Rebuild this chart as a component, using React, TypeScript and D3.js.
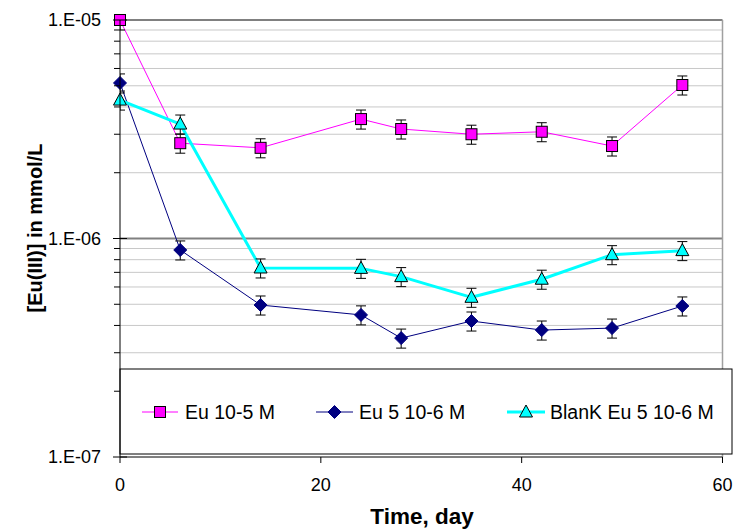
import React from "react";
import * as d3 from "d3";

const days = [0, 6, 14, 24, 28, 35, 42, 49, 56];
const eu1e5 = [1.0e-5, 2.73e-6, 2.6e-6, 3.52e-6, 3.17e-6, 3.0e-6, 3.08e-6, 2.65e-6, 5.04e-6];
const eu5e6 = [5.15e-6, 8.86e-7, 4.96e-7, 4.47e-7, 3.5e-7, 4.19e-7, 3.81e-7, 3.89e-7, 4.91e-7];
const blank5e6 = [4.3e-6, 3.34e-6, 7.33e-7, 7.3e-7, 6.69e-7, 5.38e-7, 6.51e-7, 8.43e-7, 8.8e-7];
const seriesNames = ["Eu 10-5 M", "Eu 5 10-6 M", "BlanK Eu 5 10-6 M"];
const relErr = 0.1;
const xTicks = [0, 20, 40, 60];
const yMajor = [1e-7, 1e-6, 1e-5];
const yTickLabels = ["1.E-07", "1.E-06", "1.E-05"];

const W = 735, H = 530;
const left = 120, right = 722.5, top = 20, bottom = 457;
const FONT = "'Liberation Sans', Arial, sans-serif";

function Marker({ kind, cx, cy }: { kind: string; cx: number; cy: number }) {
  if (kind === "square")
    return <rect x={cx - 5.5} y={cy - 5.5} width={11} height={11} fill="#FF00FF" stroke="#000" strokeWidth={1} />;
  if (kind === "diamond")
    return <path d={`M${cx},${cy - 6.5}L${cx + 6.5},${cy}L${cx},${cy + 6.5}L${cx - 6.5},${cy}Z`} fill="#000080" stroke="#000080" strokeWidth={1} />;
  return <path d={`M${cx},${cy - 7}L${cx + 6.5},${cy + 5}L${cx - 6.5},${cy + 5}Z`} fill="#00FFFF" stroke="#000" strokeWidth={1} />;
}

export default function App() {
  const x = d3.scaleLinear().domain([0, 60]).range([left, right]);
  const y = d3.scaleLog().domain([1e-7, 1e-5]).range([bottom, top]);

  const minor: number[] = [];
  [1e-7, 1e-6].forEach((d) => {
    for (let k = 2; k <= 9; k++) minor.push(d * k);
  });

  const series = [
    { vals: eu1e5, color: "#FF00FF", width: 1, kind: "square" },
    { vals: eu5e6, color: "#000080", width: 1, kind: "diamond" },
    { vals: blank5e6, color: "#00FFFF", width: 3, kind: "triangle" },
  ];

  const line = d3
    .line<number>()
    .x((_, i) => x(days[i]))
    .y((v) => y(v));

  const legendItems = [
    { x1: 142, x2: 178, mx: 160, tx: 185 },
    { x1: 316, x2: 353, mx: 334.5, tx: 359 },
    { x1: 507, x2: 545, mx: 526, tx: 550 },
  ];
  const ly = 412;

  return (
    <svg width={W} height={H} style={{ position: "absolute", left: 0, top: 0, background: "#fff" }} fontFamily={FONT}>
      <defs>
        <clipPath id="plotClip">
          <rect x={left} y={top} width={right - left} height={bottom - top} />
        </clipPath>
      </defs>
      <rect x={0} y={0} width={W} height={H} fill="#fff" />
      {minor.map((v, i) => (
        <line key={"mg" + i} x1={left} x2={right} y1={y(v)} y2={y(v)} stroke="#C8C8C8" strokeWidth={1} />
      ))}
      {[1e-6, 1e-5].map((v, i) => (
        <line key={"Mg" + i} x1={left} x2={right} y1={y(v)} y2={y(v)} stroke="#808080" strokeWidth={2} />
      ))}
      <line x1={right} x2={right} y1={top} y2={bottom} stroke="#A0A0A0" strokeWidth={1.5} />

      {series.map((s, si) => (
        <g key={"s" + si}>
          <path d={line(s.vals) || ""} fill="none" stroke={s.color} strokeWidth={s.width} strokeLinejoin="round" />
          <g clipPath="url(#plotClip)">
            {s.vals.map((v, i) => {
              const cx = x(days[i]);
              const y1 = y(v * (1 + relErr));
              const y2 = y(v * (1 - relErr));
              return (
                <g key={"e" + i} stroke="#000" strokeWidth={1}>
                  <line x1={cx} x2={cx} y1={y1} y2={y2} />
                  <line x1={cx - 5} x2={cx + 5} y1={y1} y2={y1} />
                  <line x1={cx - 5} x2={cx + 5} y1={y2} y2={y2} />
                </g>
              );
            })}
          </g>
          {s.vals.map((v, i) => (
            <Marker key={"m" + i} kind={s.kind} cx={x(days[i])} cy={y(v)} />
          ))}
        </g>
      ))}

      <rect x={left} y={369} width={732 - left} height={454 - 369} fill="#fff" stroke="#000" strokeWidth={1} />
      {legendItems.map((it, i) => (
        <g key={"lg" + i}>
          <line x1={it.x1} x2={it.x2} y1={ly} y2={ly} stroke={series[i].color} strokeWidth={series[i].width} />
          <Marker kind={series[i].kind} cx={it.mx} cy={ly} />
          <text x={it.tx} y={ly} dominantBaseline="central" fontSize={19.5} fill="#000">
            {seriesNames[i]}
          </text>
        </g>
      ))}

      <line x1={left} x2={left} y1={top} y2={bottom} stroke="#000" strokeWidth={1} />
      <line x1={left} x2={right} y1={bottom} y2={bottom} stroke="#000" strokeWidth={1} />
      {minor.map((v, i) => (
        <line key={"mt" + i} x1={left - 6} x2={left} y1={y(v)} y2={y(v)} stroke="#000" strokeWidth={1} />
      ))}
      {yMajor.map((v, i) => (
        <g key={"yt" + i}>
          <line x1={left - 7} x2={left + 7} y1={y(v)} y2={y(v)} stroke="#000" strokeWidth={1} />
          <text x={101} y={y(v)} textAnchor="end" dominantBaseline="central" fontSize={18} fill="#000">
            {yTickLabels[i]}
          </text>
        </g>
      ))}
      {xTicks.map((t, i) => (
        <g key={"xt" + i}>
          <line x1={x(t)} x2={x(t)} y1={bottom} y2={bottom + 6} stroke="#000" strokeWidth={1} />
          <text x={x(t)} y={491} textAnchor="middle" fontSize={18} fill="#000">
            {t}
          </text>
        </g>
      ))}
      <text x={422} y={524} textAnchor="middle" fontSize={22.5} fontWeight="bold" fill="#000">
        Time, day
      </text>
      <text
        transform={`translate(42,228) rotate(-90)`}
        textAnchor="middle"
        fontSize={20}
        fontWeight="bold"
        fill="#000"
      >
        [Eu(III)] in mmol/L
      </text>
    </svg>
  );
}
